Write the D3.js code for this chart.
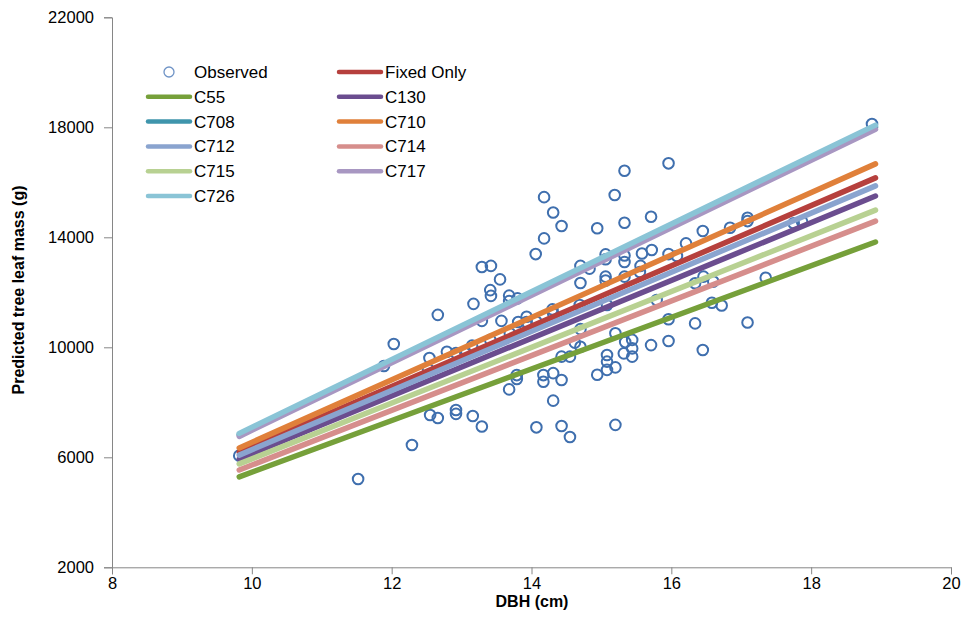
<!DOCTYPE html>
<html>
<head>
<meta charset="utf-8">
<script src="https://cdn.jsdelivr.net/npm/d3@7"></script>
<style>
  body { margin: 0; background: #fff; }
  svg text { font-family: "Liberation Sans", Arial, sans-serif; fill: #000; }
</style>
</head>
<body>
<script>
var width = 964, height = 634;

// observed points (DBH cm, leaf mass g)
var obsDbh = [11.52, 11.89, 12.03, 12.29, 12.66, 12.55, 12.66, 12.54, 12.52, 12.79, 12.92, 13.05, 13.15,
  12.92, 12.92, 13.16, 13.29, 13.17, 13.29, 13.29, 13.42, 13.41, 13.42, 13.55, 13.68, 13.68, 13.80,
  13.81, 13.93, 13.93, 13.57, 13.41, 13.69, 14.07, 14.06, 14.18, 14.18, 14.31, 14.43, 14.30, 14.31,
  14.43, 13.79, 13.79, 14.17, 14.17, 13.68, 14.43, 14.31, 14.07, 14.43, 14.55, 14.70, 14.83, 14.70,
  15.06, 15.06, 15.33, 15.55, 15.56, 15.06, 15.06, 15.33, 15.33, 15.58, 15.72, 15.96, 16.08, 16.21,
  16.45, 16.84, 17.09, 17.09, 17.75, 17.87, 18.87, 15.96, 15.33, 15.19, 14.94, 15.33, 15.71, 17.35,
  16.34, 16.46, 16.60, 16.58, 16.72, 17.09, 16.34, 15.96, 15.96, 15.71, 16.45, 15.79, 15.44, 15.44,
  15.44, 15.32, 15.34, 15.08, 15.08, 15.20, 15.08, 14.94, 15.20, 14.55, 14.70, 14.31, 14.69, 15.20,
  14.70, 14.62, 15.08, 9.82];
var obsMass = [5210, 9320, 10120, 6450, 11180, 7540, 7430, 9610, 9210, 9840, 9790, 9840, 10060,
  7720, 7580, 7500, 7120, 11580, 10960, 12920, 12960, 12080, 11870, 12470, 11880, 11680, 11780,
  10920, 11110, 10920, 10960, 10270, 10510, 10930, 13390, 13960, 15460, 14900, 14410, 11380, 11230,
  9660, 8990, 8850, 8990, 8750, 8470, 8810, 8060, 7090, 7140, 6740, 12960, 12860, 12340,
  12570, 12430, 12570, 12740, 12960, 13380, 13200, 13340, 13100, 13410, 13540, 13390, 13320, 13780,
  14230, 14350, 14710, 14590, 14510, 14570, 18120, 16690, 16420, 15540, 14330, 14530, 14750, 12530,
  12330, 12570, 12390, 11620, 11520, 10900, 10870, 11020, 10230, 10080, 9900, 11720, 10270, 9960,
  9660, 9780, 10190, 9720, 9480, 9270, 9180, 9000, 7180, 9660, 10020, 9060, 11540, 10510,
  10660, 10170, 11540, 6060];

// fitted lines: DBH range and predicted mass at each end
var lineDbh = [9.82, 18.92];
var seriesNames = ["Fixed Only", "C55", "C130", "C708", "C710", "C712", "C714", "C715", "C717", "C726"];
var seriesStart = [6190, 5290, 5940, 6820, 6340, 6080, 5540, 5760, 6760, 6870];
var seriesEnd   = [16160, 13830, 15500, 18010, 16670, 15870, 14590, 14990, 17930, 18080];
var seriesColors = ["#b6403d", "#76a03a", "#6b4d8f", "#3f95ac", "#e0803a", "#8aa4cf", "#d68e8c", "#b8d192", "#a897c2", "#8ac4d6"];

var xTicks = [8, 10, 12, 14, 16, 18, 20];
var yTicks = [2000, 6000, 10000, 14000, 18000, 22000];

var svg = d3.select("body").append("svg")
  .attr("width", width)
  .attr("height", height);

var x = d3.scaleLinear().domain([8, 20]).range([112, 951]);
var y = d3.scaleLinear().domain([2000, 22000]).range([567.3, 17.3]);

// axes
var xAxis = d3.axisBottom(x).tickValues(xTicks).tickSize(7).tickPadding(3).tickFormat(d3.format("d"));
var yAxis = d3.axisLeft(y).tickValues(yTicks).tickSize(8).tickPadding(10).tickFormat(d3.format("d"));

var gx = svg.append("g").attr("transform", "translate(0," + y(2000) + ")").call(xAxis);
var gy = svg.append("g").attr("transform", "translate(" + x(8) + ",0)").call(yAxis);

[gx, gy].forEach(function(g) {
  g.attr("font-family", null).attr("font-size", null);
  g.select(".domain").attr("stroke", "#868686").attr("stroke-width", 1);
  g.selectAll(".tick line").attr("stroke", "#868686");
  g.selectAll(".tick text").style("font-size", "16.5px").attr("fill", "#000");
});

// observed points
var pts = obsDbh.map(function(d, i) { return {x: d, y: obsMass[i]}; });
svg.append("g").selectAll("circle")
  .data(pts)
  .enter().append("circle")
  .attr("cx", function(d) { return x(d.x); })
  .attr("cy", function(d) { return y(d.y); })
  .attr("r", 5.3)
  .attr("fill", "none")
  .attr("stroke", "#3f6fae")
  .attr("stroke-width", 2);

// model lines
var line = d3.line()
  .x(function(d) { return x(d.x); })
  .y(function(d) { return y(d.y); });

seriesNames.forEach(function(name, i) {
  var d = [{x: lineDbh[0], y: seriesStart[i]}, {x: lineDbh[1], y: seriesEnd[i]}];
  svg.append("path")
    .attr("d", line(d))
    .attr("stroke", seriesColors[i])
    .attr("stroke-width", 5.5)
    .attr("stroke-linecap", "round")
    .attr("fill", "none");
});

// legend
var legendItems = [{name: "Observed", marker: true}].concat(seriesNames.map(function(n, i) {
  return {name: n, color: seriesColors[i]};
}));
var legend = svg.append("g");
legendItems.forEach(function(d, i) {
  var col = i % 2, row = Math.floor(i / 2);
  var lx = col === 0 ? 148 : 339;
  var ly = 72 + row * 24.8;
  if (d.marker) {
    legend.append("circle")
      .attr("cx", lx + 21).attr("cy", ly).attr("r", 5)
      .attr("fill", "none").attr("stroke", "#6f93c6").attr("stroke-width", 1.3);
  } else {
    legend.append("line")
      .attr("x1", lx).attr("x2", lx + 42).attr("y1", ly).attr("y2", ly)
      .attr("stroke", d.color).attr("stroke-width", 4.5).attr("stroke-linecap", "round");
  }
  legend.append("text")
    .attr("x", lx + 46).attr("y", ly + 6)
    .style("font-size", "17px")
    .text(d.name);
});

// axis titles
svg.append("text")
  .attr("x", 532).attr("y", 607)
  .attr("text-anchor", "middle")
  .style("font-size", "16px").style("font-weight", "bold")
  .text("DBH (cm)");

svg.append("text")
  .attr("transform", "translate(24,290) rotate(-90)")
  .attr("text-anchor", "middle")
  .style("font-size", "16px").style("font-weight", "bold")
  .text("Predicted tree leaf mass (g)");
</script>
</body>
</html>
